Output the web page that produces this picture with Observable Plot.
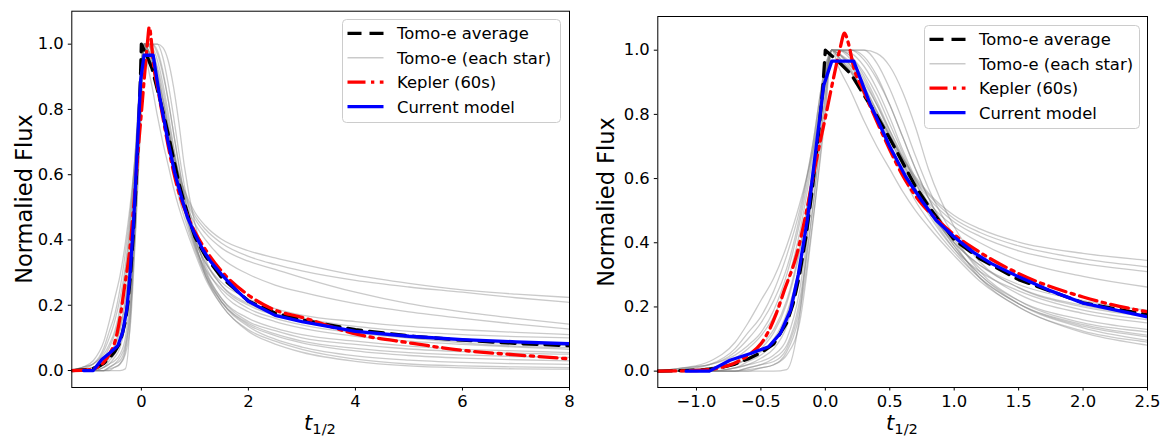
<!DOCTYPE html>
<html>
<head>
<meta charset="utf-8">
<script src="https://cdn.jsdelivr.net/npm/d3@7"></script>
<script src="https://cdn.jsdelivr.net/npm/@observablehq/plot@0.6"></script>
<style>
  body { margin: 0; background: #fff; }
  #wrap { position: relative; width: 1166px; height: 438px; overflow: hidden; font-family: "DejaVu Sans", sans-serif; }
  .panel { position: absolute; top: 0; }
</style>
</head>
<body>
<div id="wrap"></div>
<script>
// ---------------- DATA ----------------
const seriesNames = ["Tomo-e average", "Tomo-e (each star)", "Kepler (60s)", "Current model"];
const yTicks = [0, 0.2, 0.4, 0.6, 0.8, 1.0];
const xTicksLeft = [0, 2, 4, 6, 8];
const xTicksRight = [-1.0, -0.5, 0.0, 0.5, 1.0, 1.5, 2.0, 2.5];
const yLabel = "Normalied Flux";

// Tomo-e average (black dashed)
const avgT = [-1.3,-1.0,-0.9,-0.8,-0.7,-0.6,-0.5,-0.4,-0.3,-0.25,-0.2,-0.15,-0.1,-0.05,-0.02,0.0,0.1,0.2,0.3,0.4,0.5,0.6,0.7,0.8,0.9,1.0,1.2,1.5,2.0,2.5,3,4,5,6,7,8];
const avgF = [0,0.003,0.006,0.012,0.022,0.038,0.057,0.085,0.15,0.21,0.30,0.42,0.57,0.75,0.88,1.0,0.965,0.925,0.86,0.795,0.725,0.65,0.575,0.515,0.46,0.41,0.35,0.285,0.213,0.176,0.155,0.125,0.106,0.093,0.083,0.076];

// Kepler (60s) (red dash-dot)
const kepT = [-1.3,-1.0,-0.85,-0.71,-0.58,-0.5,-0.45,-0.38,-0.32,-0.22,-0.14,-0.065,0.0,0.065,0.117,0.148,0.18,0.22,0.3,0.42,0.5,0.6,0.75,0.86,1.0,1.2,1.5,2.0,2.5,3,4,5,6,7,8];
const kepF = [0,0.002,0.008,0.024,0.055,0.085,0.117,0.18,0.25,0.366,0.51,0.667,0.79,0.916,1.01,1.053,1.02,0.947,0.87,0.76,0.69,0.61,0.52,0.475,0.425,0.37,0.304,0.231,0.185,0.163,0.112,0.085,0.062,0.048,0.036];

// Current model (blue solid)
const modelT = [-1.08,-0.9,-0.74,-0.58,-0.44,-0.35,-0.27,-0.21,-0.14,-0.09,-0.04,-0.013,0.05,0.22,0.35,0.42,0.5,0.625,0.75,0.86,1.0,1.15,1.29,1.5,1.75,2.0,2.5,3,4,5,6,7,8];
const modelF = [0,0,0.034,0.055,0.076,0.117,0.19,0.30,0.47,0.636,0.80,0.89,0.966,0.966,0.83,0.77,0.70,0.605,0.53,0.47,0.418,0.37,0.335,0.294,0.25,0.212,0.169,0.15,0.12,0.105,0.095,0.088,0.082];

// Tomo-e individual stars (grey)
const starT = [-1.3,-1.1,-0.9,-0.7,-0.6,-0.5,-0.4,-0.3,-0.2,-0.1,0,0.05,0.1,0.2,0.3,0.4,0.5,0.6,0.7,0.8,1.0,1.2,1.5,2.0,2.5,3,4,5,6,7,8];
const starF = [
  [0,0.01,0.03,0.09,0.15,0.22,0.29,0.39,0.52,0.68,0.90,1.0,0.975,0.93,0.87,0.80,0.73,0.665,0.605,0.555,0.485,0.443,0.402,0.367,0.345,0.326,0.292,0.267,0.247,0.234,0.224],
  [0,0.01,0.02,0.06,0.10,0.15,0.22,0.32,0.48,0.70,0.95,1.0,0.98,0.935,0.875,0.805,0.735,0.665,0.60,0.55,0.475,0.432,0.39,0.35,0.325,0.305,0.276,0.256,0.24,0.223,0.209],
  [0,0.005,0.01,0.04,0.07,0.11,0.17,0.27,0.43,0.66,0.93,1.0,0.99,0.95,0.885,0.81,0.735,0.66,0.595,0.54,0.465,0.42,0.375,0.335,0.31,0.285,0.24,0.205,0.18,0.16,0.142],
  [0,0,0.01,0.03,0.05,0.08,0.13,0.22,0.38,0.62,0.90,1.0,0.99,0.94,0.87,0.795,0.72,0.645,0.58,0.525,0.45,0.40,0.345,0.295,0.262,0.24,0.205,0.18,0.16,0.142,0.127],
  [0,0,0.005,0.02,0.04,0.06,0.10,0.18,0.33,0.60,0.92,1.0,1.0,0.97,0.91,0.83,0.74,0.65,0.57,0.50,0.40,0.33,0.27,0.22,0.19,0.17,0.15,0.135,0.125,0.117,0.11],
  [0,0,0,0.01,0.02,0.04,0.07,0.14,0.30,0.58,0.90,1.0,1.0,0.98,0.93,0.86,0.77,0.68,0.59,0.51,0.40,0.33,0.26,0.205,0.175,0.16,0.135,0.12,0.11,0.104,0.10],
  [0,0,0,0.01,0.02,0.03,0.05,0.10,0.25,0.55,0.88,1.0,0.99,0.95,0.89,0.81,0.73,0.64,0.56,0.49,0.38,0.31,0.25,0.19,0.16,0.14,0.115,0.10,0.09,0.082,0.076],
  [0,0,0,0,0.01,0.02,0.04,0.08,0.22,0.50,0.85,1.0,1.0,1.0,0.97,0.91,0.83,0.73,0.63,0.54,0.41,0.32,0.24,0.18,0.15,0.13,0.105,0.09,0.08,0.072,0.065],
  [0,0,0,0,0,0,0,0.005,0.17,0.58,0.90,1.0,1.0,0.99,0.95,0.88,0.79,0.69,0.60,0.52,0.39,0.30,0.22,0.16,0.13,0.11,0.09,0.075,0.065,0.06,0.055],
  [0,0,0,0,0.005,0.01,0.02,0.05,0.15,0.45,0.82,1.0,1.0,1.0,1.0,0.96,0.88,0.78,0.67,0.57,0.42,0.31,0.22,0.15,0.122,0.10,0.08,0.066,0.058,0.053,0.05],
  [0,0.01,0.02,0.05,0.08,0.12,0.19,0.30,0.46,0.68,0.94,1.0,0.98,0.93,0.86,0.78,0.69,0.61,0.53,0.47,0.37,0.29,0.21,0.145,0.112,0.09,0.068,0.055,0.048,0.043,0.04],
  [0,0,0.01,0.02,0.04,0.07,0.12,0.21,0.37,0.63,0.92,1.0,1.0,0.98,0.92,0.84,0.75,0.66,0.57,0.50,0.38,0.29,0.21,0.14,0.107,0.085,0.06,0.046,0.038,0.033,0.03],
  [0,0,0,0.01,0.03,0.05,0.09,0.17,0.33,0.60,0.90,1.0,0.99,0.96,0.90,0.83,0.75,0.67,0.59,0.51,0.39,0.30,0.21,0.135,0.096,0.072,0.045,0.032,0.025,0.021,0.019],
  [0,0,0,0,0.01,0.02,0.03,0.07,0.20,0.50,0.86,1.0,1.0,1.0,0.98,0.92,0.83,0.73,0.63,0.54,0.40,0.29,0.20,0.125,0.09,0.065,0.035,0.02,0.014,0.011,0.009],
  [0,0.005,0.02,0.07,0.12,0.17,0.25,0.36,0.50,0.70,0.95,1.0,0.95,0.87,0.78,0.70,0.63,0.56,0.50,0.45,0.36,0.28,0.20,0.12,0.081,0.056,0.028,0.014,0.008,0.005,0.004],
  [0,0,0,0,0,0.01,0.02,0.06,0.18,0.46,0.80,1.0,1.0,1.0,1.0,0.99,0.95,0.87,0.76,0.63,0.45,0.34,0.26,0.20,0.17,0.15,0.12,0.10,0.085,0.075,0.07]
];

// ---------------- TABLES ----------------
const avgData = avgT.map((t, i) => ({t, f: avgF[i]}));
const kepData = kepT.map((t, i) => ({t, f: kepF[i]}));
const modelData = modelT.map((t, i) => ({t, f: modelF[i]}));
const starData = starF.flatMap((row, s) => row.map((f, i) => ({star: s, t: starT[i], f})));

// ---------------- STYLES ----------------
const S = {
  avg:   {stroke: "black", strokeWidth: 3.3, strokeDasharray: "14,8"},
  star:  {stroke: "gray", strokeOpacity: 0.42, strokeWidth: 1.3},
  kep:   {stroke: "red", strokeWidth: 3.3, strokeDasharray: "18,5.5,3.3,5.5"},
  model: {stroke: "blue", strokeWidth: 3.3}
};

function panel({width, mL, mR, mT, mB, xDomain, yDomain, xTicks, xFmt}) {
  return Plot.plot({
    width, height: 438,
    marginLeft: mL, marginRight: mR, marginTop: mT, marginBottom: mB,
    style: {fontFamily: "DejaVu Sans", color: "black", background: "transparent", overflow: "visible"},
    x: {domain: xDomain, label: null},
    y: {domain: yDomain, label: null},
    marks: [
      Plot.line(starData, {x: "t", y: "f", z: "star", ...S.star, curve: "monotone-x", clip: true}),
      Plot.line(avgData, {x: "t", y: "f", ...S.avg, clip: true}),
      Plot.line(kepData, {x: "t", y: "f", ...S.kep, curve: "monotone-x", clip: true}),
      Plot.line(modelData, {x: "t", y: "f", ...S.model, clip: true}),
      Plot.frame({stroke: "black", strokeWidth: 1}),
      Plot.axisX({ticks: xTicks, tickFormat: xFmt, tickSize: 3.5, tickPadding: 4.5, fontSize: 16.4, label: null}),
      Plot.axisY({ticks: yTicks, tickFormat: d3.format(".1f"), tickSize: 3.5, tickPadding: 4.5, fontSize: 16.4, label: null})
    ]
  });
}

const wrap = document.getElementById("wrap");
const left = panel({width: 580, mL: 71.3, mR: 11, mT: 10.7, mB: 51,
  xDomain: [-1.3, 8], yDomain: [-0.052, 1.101], xTicks: xTicksLeft, xFmt: d3.format("d")});
left.classList.add("panel"); left.style.left = "0px";
wrap.appendChild(left);

const right = panel({width: 586, mL: 77.3, mR: 19, mT: 16, mB: 51,
  xDomain: [-1.3, 2.5], yDomain: [-0.051, 1.105], xTicks: xTicksRight, xFmt: d3.format(".1f")});
right.classList.add("panel"); right.style.left = "580px";
wrap.appendChild(right);

// ---------------- LABELS & LEGENDS (overlay) ----------------
const ov = d3.select(wrap).append("svg")
  .attr("width", 1166).attr("height", 438)
  .style("position", "absolute").style("left", 0).style("top", 0)
  .style("pointer-events", "none")
  .attr("font-family", "DejaVu Sans");

function yLab(x, y) {
  ov.append("text").attr("transform", `translate(${x},${y}) rotate(-90)`)
    .attr("text-anchor", "middle").attr("font-size", 22.5).attr("fill", "black").text(yLabel);
}
function xLab(x, y) {
  const t = ov.append("text").attr("x", x).attr("y", y).attr("text-anchor", "middle")
    .attr("font-size", 21).attr("fill", "black");
  t.append("tspan").attr("font-style", "italic").text("t");
  t.append("tspan").attr("font-size", 14.7).attr("dy", 4.2).text("1/2");
}
function legend(x0, y0, w, h) {
  const g = ov.append("g");
  g.append("rect").attr("x", x0 + 0.5).attr("y", y0 + 0.5).attr("width", w).attr("height", h)
    .attr("rx", 4).attr("fill", "white").attr("fill-opacity", 0.8).attr("stroke", "#cccccc").attr("stroke-width", 1);
  const styles = [S.avg, S.star, S.kep, S.model];
  seriesNames.forEach((name, i) => {
    const cy = y0 + 14.3 + 24.45 * i;
    const st = styles[i];
    g.append("line").attr("x1", x0 + 5.5).attr("x2", x0 + 41.5).attr("y1", cy).attr("y2", cy)
      .attr("stroke", st.stroke).attr("stroke-width", st.strokeWidth)
      .attr("stroke-opacity", st.strokeOpacity ?? 1)
      .attr("stroke-dasharray", st.strokeDasharray ?? null);
    g.append("text").attr("x", x0 + 55).attr("y", cy + 5.9).attr("font-size", 16.4).attr("fill", "black").text(name);
  });
}

yLab(32, 199);
yLab(614, 202);
xLab(320, 429.5);
xLab(902, 429.5);
legend(342, 19, 218, 103);
legend(924, 25, 215, 103);
</script>
</body>
</html>
